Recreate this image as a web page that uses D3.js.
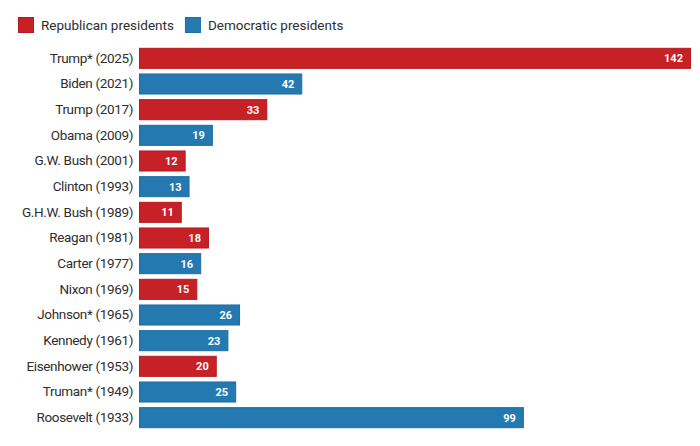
<!DOCTYPE html>
<html><head><meta charset="utf-8">
<script src="https://cdn.jsdelivr.net/npm/d3@7"></script>
<style>body{margin:0;background:#fff;font-family:"Roboto","Noto Sans",sans-serif;}</style>
</head><body>
<svg id="c" width="700" height="446"></svg>
<script>
const presidents = ["Trump* (2025)","Biden (2021)","Trump (2017)","Obama (2009)","G.W. Bush (2001)","Clinton (1993)","G.H.W. Bush (1989)","Reagan (1981)","Carter (1977)","Nixon (1969)","Johnson* (1965)","Kennedy (1961)","Eisenhower (1953)","Truman* (1949)","Roosevelt (1933)"];
const counts = [142,42,33,19,12,13,11,18,16,15,26,23,20,25,99];
const parties = ["R","D","R","D","R","D","R","R","D","R","D","D","R","D","D"];
const legendLabels = ["Republican presidents","Democratic presidents"];
const partyKeys = ["R","D"];

const svg = d3.select("#c");
const fill = d3.scaleOrdinal().domain(partyKeys).range(["#c62127","#2479b0"]);
const stroke = d3.scaleOrdinal().domain(partyKeys).range(["#b51b21","#1f6da3"]);

const x = d3.scaleLinear().domain([0,142]).range([139,691]);
const y = d3.scaleBand().domain(presidents).range([45.5,430.5]).paddingInner(0.18).paddingOuter(0.09);

// legend
const lg = svg.append("g");
let lx = 18;
legendLabels.forEach((t,i)=>{
  lg.append("rect").attr("x",lx+0.5).attr("y",17.5).attr("width",15).attr("height",15)
    .attr("fill",fill(partyKeys[i])).attr("stroke",stroke(partyKeys[i]));
  const tx = lg.append("text").attr("x",lx+23).attr("y",30).attr("font-size",13.5).attr("fill","#2e2e2e").text(t);
  lx += 23 + tx.node().getComputedTextLength() + 11;
});

const data = presidents.map((p,i)=>({p, v:counts[i], party:parties[i]}));

svg.append("g").selectAll("rect").data(data).join("rect")
  .attr("x",x(0)+0.5).attr("y",d=>y(d.p)+0.5)
  .attr("width",d=>x(d.v)-x(0)-1).attr("height",y.bandwidth()-1)
  .attr("fill",d=>fill(d.party)).attr("stroke",d=>stroke(d.party));

const ax = d3.axisLeft(y).tickSize(0).tickPadding(6);
const axg = svg.append("g").attr("transform",`translate(${x(0)},0)`).call(ax);
axg.select(".domain").remove();
axg.selectAll("text").attr("font-size",13.5).attr("letter-spacing","-0.35px").attr("fill","#2e2e2e").attr("font-family","Roboto, 'Noto Sans', sans-serif");

svg.append("g").selectAll("text").data(data).join("text")
  .attr("x",d=>x(d.v)-8).attr("y",d=>y(d.p)+y.bandwidth()/2)
  .attr("dy","0.35em").attr("text-anchor","end")
  .attr("font-size",11).attr("font-weight","bold").attr("fill","#fff")
  .text(d=>d.v);
</script>
</body></html>
